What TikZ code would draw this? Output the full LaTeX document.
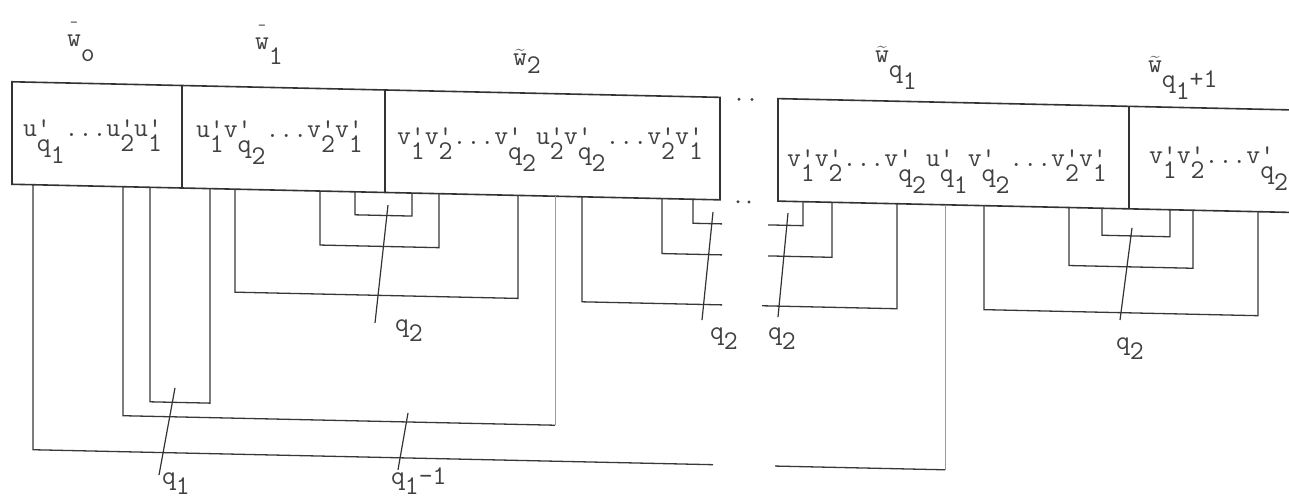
\documentclass[tikz,border=0pt]{standalone}
\newcommand\tyA[1]{\makebox[0pt][l]{'}\raisebox{-15pt}{#1}}
\newcommand\tyB[1]{\raisebox{-27pt}{#1}}
\newcommand\tyS[1]{\raisebox{-15pt}{#1}}
\newcommand\tyL[1]{\raisebox{-10pt}{#1}}
\newcommand\tyBar{\makebox[0pt][l]{\makebox[14.2pt]{\raisebox{19pt}{\fontsize{16}{16}\selectfont -}}}}
\newcommand\tyTil{\makebox[0pt][l]{\makebox[14.2pt]{\raisebox{11pt}{\rmfamily\fontsize{17}{17}\selectfont\textasciitilde}}}}
\begin{document}
\begin{tikzpicture}[x=1pt,y=-1pt,
  ln/.style={draw=black!78,line width=1.3pt},
  bx/.style={draw=black!80,line width=1.6pt},
  faint/.style={draw=black!40,line width=0.9pt},
  tk/.style={draw=black!80,line width=1.2pt},
  tw/.style={inner sep=0pt,outer sep=0pt,anchor=base west,text=black!75,
    font=\ttfamily\fontsize{27}{27}\selectfont}]
\useasboundingbox (0,0) rectangle (1289,501);
\begin{scope}[yslant=-0.022]
% boxes
\draw[bx] (12,81.5) -- (720,81.5) -- (720,184) -- (12,184) -- cycle;
\draw[bx] (182,81.5) -- (182,184);
\draw[bx] (385,81.5) -- (385,184);
\draw[bx] (1289,81.5) -- (778,81.5) -- (778,184) -- (1289,184);
\draw[bx] (1129,81.5) -- (1129,184);
% dots
\fill[black!75] (739,83) circle (1.6) (752,83) circle (1.6);
\fill[black!75] (738,185.5) circle (1.6) (749,185.5) circle (1.6);
% box texts
\node[tw] (b0) at (23,136) {u\tyA{q}\tyB{1}...u\tyA{2}u\tyA{1}};
\node[tw] (b1) at (196,133) {u\tyA{1}v\tyA{q}\tyB{2}...v\tyA{2}v\tyA{1}};
\node[tw] (b2) at (397,136) {v\tyA{1}v\tyA{2}...v\tyA{q}\tyB{2}u\tyA{2}v\tyA{q}\tyB{2}...v\tyA{2}v\tyA{1}};
\node[tw] (bq) at (787,149) {v\tyA{1}v\tyA{2}...v\tyA{q}\tyB{2}u\tyA{q}\tyB{1}v\tyA{q}\tyB{2}...v\tyA{2}v\tyA{1}};
\node[tw] (bq1) at (1149,138) {v\tyA{1}v\tyA{2}...v\tyA{q}\tyB{2}};
% top labels
\node[tw] (lw0) at (67,45) {\tyBar w\tyS{o}};
\node[tw] (lw1) at (255,44) {\tyBar w\tyS{1}};
\node[tw] (lw2) at (513,54) {\tyTil w\raisebox{-8pt}{2}};
\node[tw] (lwq) at (875,43) {\tyTil w\tyS{q}\tyB{1}};
\node[tw] (lwq1) at (1148,47) {\tyTil w\tyS{q}\tyB{1}\tyS{+1}};
% q1 brackets
\draw[ln] (33,184) -- (33,449) -- (713,449);
\draw[ln] (775,449) -- (945,449);
\draw[faint] (945,449) -- (945,184);
\draw[ln] (555,413) -- (123,413) -- (123,184);
\draw[faint] (555,413) -- (555,184);
\draw[ln] (150,184) -- (150,398.5) -- (210,398.5) -- (210,184);
\draw[tk] (175,384) -- (159,471.5);
\draw[tk] (408,404) -- (398,461);
\node[tw] (lq1) at (162,481) {q\tyL{1}};
\node[tw] (lq11) at (391,476) {q\tyL{1}-1};
% q2 brackets, first group
\draw[ln] (235,184) -- (235,287) -- (518,287) -- (518,184);
\draw[ln] (320,184) -- (320,238) -- (439,238) -- (439,184);
\draw[ln] (355,184) -- (355,207) -- (412,207) -- (412,184);
\draw[tk] (388,196.5) -- (375,314.7);
\node[tw] (lq2a) at (395,323) {q\tyL{2}};
% q2 brackets, second group (broken)
\draw[ln] (582,184) -- (582,289) -- (722,289);
\draw[ln] (662,184) -- (662,239) -- (722,239);
\draw[ln] (693,184) -- (693,208) -- (722,208);
\draw[ln] (762,289) -- (897,289) -- (897,184);
\draw[ln] (768,239) -- (832,239) -- (832,184);
\draw[ln] (768,208) -- (803,208) -- (803,184);
\draw[tk] (713,196.3) -- (702,304.6);
\draw[tk] (788,195.7) -- (778,300);
\node[tw] (lq2b) at (710,324) {q\tyL{2}};
\node[tw] (lq2c) at (768,323) {q\tyL{2}};
% q2 brackets, third group
\draw[ln] (984,184) -- (984,288) -- (1258,288) -- (1258,184);
\draw[ln] (1069,184) -- (1069,242) -- (1193,242) -- (1193,184);
\draw[ln] (1102,184) -- (1102,211) -- (1170,211) -- (1170,184);
\draw[tk] (1132,203) -- (1120,295.4);
\node[tw] (lq2d) at (1116,325) {q\tyL{2}};
\end{scope}
\end{tikzpicture}
\end{document}
